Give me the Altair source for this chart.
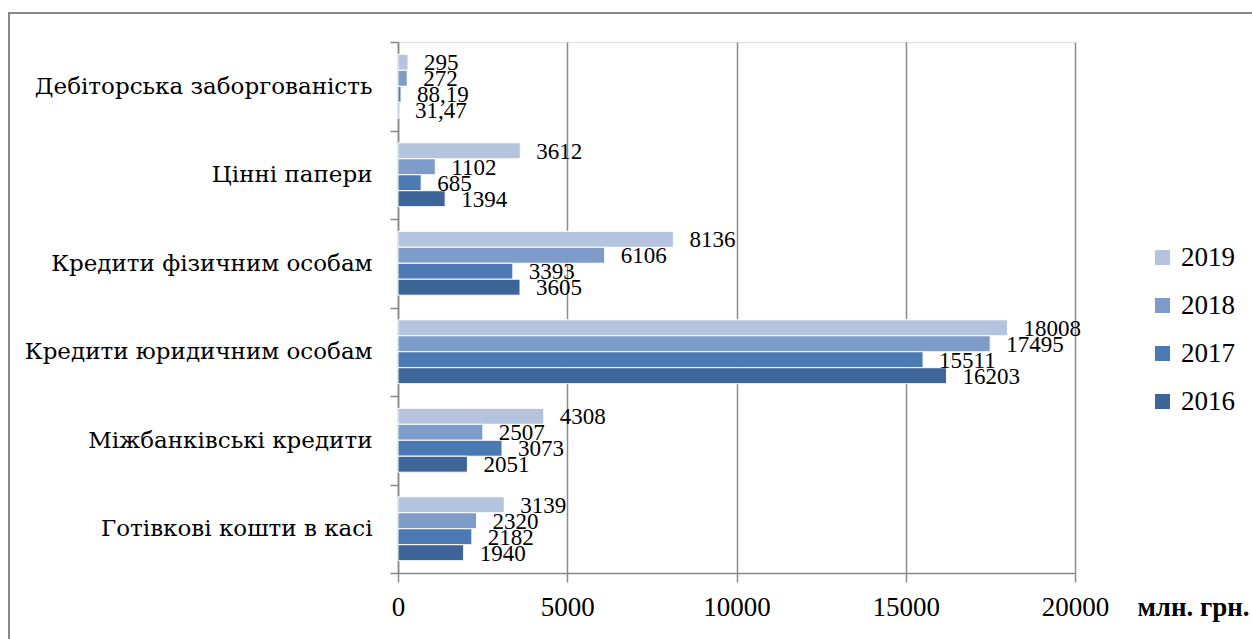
import altair as alt
import pandas as pd

categories = [
    "Дебіторська заборгованість",
    "Цінні папери",
    "Кредити фізичним особам",
    "Кредити юридичним особам",
    "Міжбанківські кредити",
    "Готівкові кошти в касі",
]
years = ["2019", "2018", "2017", "2016"]
values = {
    "2019": [295, 3612, 8136, 18008, 4308, 3139],
    "2018": [272, 1102, 6106, 17495, 2507, 2320],
    "2017": [88.19, 685, 3393, 15511, 3073, 2182],
    "2016": [31.47, 1394, 3605, 16203, 2051, 1940],
}
colors = ["#b4c3de", "#7e9cc9", "#4a79b3", "#3d6597"]
x_ticks = [0, 5000, 10000, 15000, 20000]

rows = []
for y in years:
    for c, v in zip(categories, values[y]):
        lab = f"{v:g}".replace(".", ",")
        rows.append({"cat": c, "year": y, "value": v, "label": lab})
df = pd.DataFrame(rows)

FONT = "Liberation Serif"
CATFONT = "DejaVu Serif"
W, H = 677, 531

y_enc = alt.Y("cat:N", sort=categories,
              scale=alt.Scale(paddingInner=0, paddingOuter=0),
              axis=alt.Axis(title=None, tickBand="extent", tickSize=8, tickColor="#888888",
                            tickWidth=1.5, domainColor="#888888", domainWidth=1.5,
                            labelFont=CATFONT, labelFontSize=23, labelColor="#000000",
                            labelPadding=18, labelLimit=0, grid=False))
x_enc = alt.X("value:Q", scale=alt.Scale(domain=[0, 20000], nice=False),
              axis=alt.Axis(values=x_ticks, title="млн. грн.", format="d",
                            labelFont=FONT, labelFontSize=27, labelColor="#000000",
                            labelPadding=12, labelFlush=False, labelOverlap=False,
                            tickSize=9, tickColor="#888888", tickWidth=1.5,
                            domainColor="#888888", domainWidth=1.5,
                            grid=True, gridColor="#8c8c8c", gridWidth=1.5,
                            titleFont=FONT, titleFontSize=27, titleFontWeight="bold",
                            titleColor="#000000", titleX=795, titleY=34,
                            titleAlign="center", titleBaseline="middle"))
yoff = alt.YOffset("year:N", sort=years,
                   scale=alt.Scale(paddingInner=0, paddingOuter=0.77))

bars = alt.Chart(df).mark_bar(stroke="white", strokeWidth=1).encode(
    y=y_enc, x=x_enc, yOffset=yoff,
    color=alt.Color("year:N", sort=years,
                    scale=alt.Scale(domain=years, range=colors),
                    legend=alt.Legend(title=None, orient="none", legendX=751, legendY=202,
                                      symbolType="square", symbolSize=225,
                                      symbolStrokeWidth=0, labelFont=FONT,
                                      labelFontSize=27, labelColor="#000000",
                                      rowPadding=20, labelOffset=5)),
)
labels = alt.Chart(df).mark_text(align="left", baseline="middle", dx=16, dy=1,
                                 font=FONT, fontSize=23, color="#000000").encode(
    y=alt.Y("cat:N", sort=categories), x="value:Q", yOffset=yoff, text="label:N")

frame_top = alt.Chart(df).mark_rule(color="#888888", strokeWidth=2).encode(
    x=alt.value(-390), x2=alt.value(900), y=alt.value(-29))
frame_left = alt.Chart(df).mark_rule(color="#888888", strokeWidth=2).encode(
    x=alt.value(-389), y=alt.value(-30), y2=alt.value(700))

chart = alt.layer(bars, labels, frame_top, frame_left).properties(
    width=W, height=H,
    autosize=alt.AutoSizeParams(type="none"),
    padding={"left": 398, "top": 42, "right": 177, "bottom": 66},
).configure_view(stroke=None).configure(background="white")

chart.save("out.html", embed_options={"renderer": "svg", "actions": False})
